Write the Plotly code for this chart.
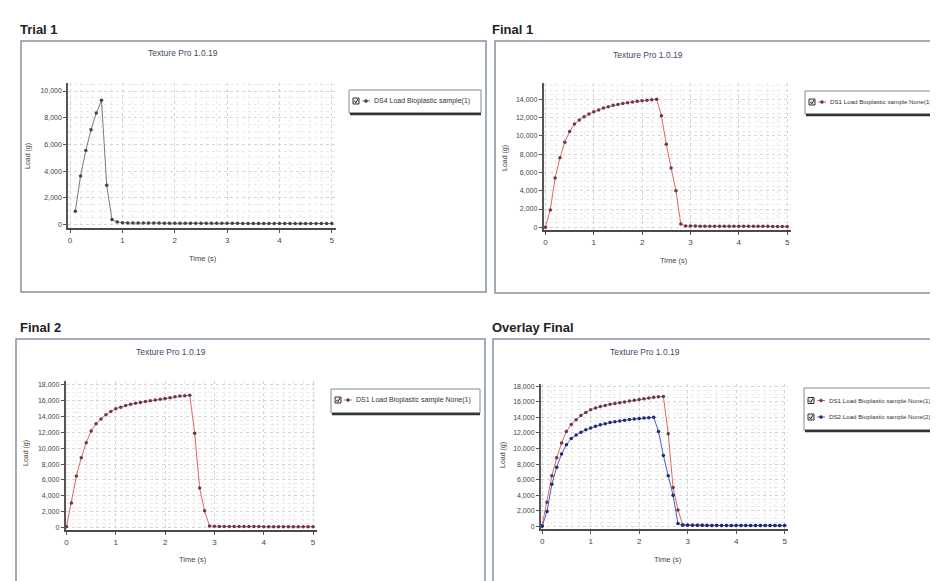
import plotly.graph_objects as go

W, H = 938, 581

# ---------------- data ----------------
time_trial = [0.1, 0.2, 0.3, 0.4, 0.5, 0.6, 0.7, 0.8, 0.9, 1.0,
              1.1, 1.2, 1.3, 1.4, 1.5, 1.6, 1.7, 1.8, 1.9, 2.0,
              2.1, 2.2, 2.3, 2.4, 2.5, 2.6, 2.7, 2.8, 2.9, 3.0,
              3.1, 3.2, 3.3, 3.4, 3.5, 3.6, 3.7, 3.8, 3.9, 4.0,
              4.1, 4.2, 4.3, 4.4, 4.5, 4.6, 4.7, 4.8, 4.9, 5.0]
load_trial1 = [1000, 3650, 5550, 7100, 8350, 9300, 2950, 380, 190, 140,
               130, 125, 120, 120, 115, 115, 115, 110, 110, 110,
               110, 105, 105, 105, 105, 100, 100, 100, 100, 100,
               100, 100, 95, 95, 95, 95, 95, 95, 90, 90,
               90, 90, 90, 90, 90, 90, 85, 85, 85, 85]

time_final = [0.0, 0.1, 0.2, 0.3, 0.4, 0.5, 0.6, 0.7, 0.8, 0.9, 1.0,
              1.1, 1.2, 1.3, 1.4, 1.5, 1.6, 1.7, 1.8, 1.9, 2.0,
              2.1, 2.2, 2.3, 2.4, 2.5, 2.6, 2.7, 2.8, 2.9, 3.0,
              3.1, 3.2, 3.3, 3.4, 3.5, 3.6, 3.7, 3.8, 3.9, 4.0,
              4.1, 4.2, 4.3, 4.4, 4.5, 4.6, 4.7, 4.8, 4.9, 5.0]
load_final1 = [0, 1900, 5400, 7600, 9300, 10500, 11300, 11750, 12100, 12400, 12650,
               12850, 13050, 13200, 13350, 13450, 13550, 13650, 13720, 13800, 13850,
               13920, 13970, 14020, 12200, 9100, 6500, 4000, 350, 140, 130,
               125, 120, 120, 115, 115, 110, 110, 110, 105, 105,
               105, 100, 100, 100, 100, 100, 95, 95, 95, 95]
load_final2 = [100, 3100, 6500, 8800, 10700, 12200, 13100, 13700, 14250, 14650, 15000,
               15200, 15400, 15550, 15700, 15800, 15900, 16000, 16100, 16200, 16300,
               16400, 16500, 16600, 16650, 16700, 11900, 5000, 2100, 200, 150,
               135, 125, 120, 120, 115, 115, 110, 110, 110, 105,
               105, 105, 100, 100, 100, 100, 95, 95, 95, 95]

x_tick_vals = [0, 1, 2, 3, 4, 5]
chart_title = "Texture Pro 1.0.19"
panel_labels = ["Trial 1", "Final 1", "Final 2", "Overlay Final"]
name_trial = "DS4 Load Bioplastic sample(1)"
name_final1 = "DS1 Load Bioplastic sample None(1)"
name_final2 = "DS1 Load Bioplastic sample None(1)"
name_ov1 = "DS1 Load Bioplastic sample None(1)"
name_ov2 = "DS2 Load Bioplastic sample None(2)"

# ---------------- styles ----------------
GRAY_LINE, GRAY_MK = "#7a7a7a", "#444444"
RED_LINE, RED_MK = "#e06666", "#6a3a44"
BLUE_LINE, BLUE_MK = "#4a5fc0", "#1f2a78"
FONT = "Liberation Sans"


def px(x):
    return x / W


def py(y):
    return 1 - y / H


panels = [
    dict(ax="", xdom=(60, 328), ydom=(75, 220), xr=[-0.04, 5.08], yr=[-250, 10600],
         title=(175, 45), ylab=(20, 148), xlab=(195, 250), lab=(10, 21)),
    dict(ax="2", xdom=(535.5, 783), ydom=(75, 222), xr=[-0.04, 5.08], yr=[-300, 15800],
         title=(640, 47), ylab=(497, 150), xlab=(666, 252), lab=(482, 21)),
    dict(ax="3", xdom=(57.5, 309), ydom=(373, 522), xr=[-0.02, 5.08], yr=[-320, 18500],
         title=(163, 344), ylab=(18, 445), xlab=(185, 551), lab=(10, 319)),
    dict(ax="4", xdom=(532.7, 780), ydom=(376, 521), xr=[-0.03, 5.07], yr=[-350, 18300],
         title=(637, 344), ylab=(495, 447), xlab=(660, 551), lab=(482, 319)),
]

fig = go.Figure()


def add_series(ax, x, y, name, lc, mc):
    fig.add_trace(go.Scatter(
        x=x, y=y, name=name, mode="lines+markers",
        line=dict(color=lc, width=1),
        marker=dict(color=mc, size=3.5),
        xaxis="x" + ax, yaxis="y" + ax, showlegend=False))


add_series("", time_trial, load_trial1, name_trial, GRAY_LINE, GRAY_MK)
add_series("2", time_final, load_final1, name_final1, RED_LINE, RED_MK)
add_series("3", time_final, load_final2, name_final2, RED_LINE, RED_MK)
add_series("4", time_final, load_final2, name_ov1, RED_LINE, RED_MK)
add_series("4", time_final, load_final1, name_ov2, BLUE_LINE, BLUE_MK)

layout = dict(
    width=W, height=H,
    margin=dict(l=0, r=0, t=0, b=0, autoexpand=False),
    paper_bgcolor="white", plot_bgcolor="white",
    font=dict(family=FONT, color="#333"),
)

annotations = []
shapes = []

for p in panels:
    a = p["ax"]
    xa = dict(
        domain=[px(p["xdom"][0]), px(p["xdom"][1])], range=p["xr"],
        anchor="y" + a, showline=True, linecolor="#4a4a4a", linewidth=2,
        ticks="outside", ticklen=3, tickcolor="#555", tickvals=x_tick_vals,
        tickfont=dict(size=8, color="#444", family=FONT),
        showgrid=True, gridcolor="#d4d4d4", griddash="dot", gridwidth=1,
        minor=dict(dtick=0.2, showgrid=True, gridcolor="#ebebeb", griddash="dot"),
        zeroline=False, fixedrange=True,
    )
    ya = dict(
        domain=[py(p["ydom"][1]), py(p["ydom"][0])], range=p["yr"],
        anchor="x" + a, showline=True, linecolor="#555", linewidth=1.5,
        ticks="outside", ticklen=3, tickcolor="#555", dtick=2000, tick0=0,
        tickformat=",d", tickfont=dict(size=7, color="#444", family=FONT),
        showgrid=True, gridcolor="#d4d4d4", griddash="dot", gridwidth=1,
        minor=dict(dtick=500, showgrid=True, gridcolor="#ebebeb", griddash="dot"),
        zeroline=False, fixedrange=True,
    )
    layout["xaxis" + a] = xa
    layout["yaxis" + a] = ya

    tx, ty = p["title"]
    annotations.append(dict(text=chart_title, x=px(tx), y=py(ty), xref="paper", yref="paper",
                            showarrow=False, xanchor="center", yanchor="middle",
                            font=dict(size=8.5, color="#3d4a66", family=FONT)))
    lx, ly = p["ylab"]
    annotations.append(dict(text="Load (g)", x=px(lx), y=py(ly), xref="paper", yref="paper",
                            showarrow=False, textangle=-90, xanchor="center", yanchor="middle",
                            font=dict(size=7, color="#444", family=FONT)))
    xx, xy = p["xlab"]
    annotations.append(dict(text="Time (s)", x=px(xx), y=py(xy), xref="paper", yref="paper",
                            showarrow=False, xanchor="center", yanchor="middle",
                            font=dict(size=7.5, color="#444", family=FONT)))

for lab, p in zip(panel_labels, panels):
    lx, ly = p["lab"]
    annotations.append(dict(text="<b>" + lab + "</b>", x=px(lx), y=py(ly), xref="paper", yref="paper",
                            showarrow=False, xanchor="left", yanchor="middle",
                            font=dict(size=13, color="#222", family=FONT)))

# panel frames
frames = [(13, 33, 478, 284), (487, 33, 950, 285), (8, 331, 477, 600), (485, 331, 950, 600)]
for (x0, y0, x1, y1) in frames:
    shapes.append(dict(type="rect", xref="paper", yref="paper",
                       x0=px(x0), x1=px(x1), y0=py(y1), y1=py(y0),
                       line=dict(color="#8691a3", width=1.5)))

# legend boxes: (box), rows, font size
legends = [
    ((341, 82, 473, 105), [(93, name_trial, GRAY_LINE, GRAY_MK)], 7),
    ((797, 83, 950, 106), [(94, name_final1, RED_LINE, RED_MK)], 6.2),
    ((323, 381, 472, 405), [(392, name_final2, RED_LINE, RED_MK)], 7),
    ((796, 380, 950, 422), [(392.5, name_ov1, RED_LINE, RED_MK), (409, name_ov2, BLUE_LINE, BLUE_MK)], 6.2),
]
for (x0, y0, x1, y1), rows, fs in legends:
    shapes.append(dict(type="rect", xref="paper", yref="paper",
                       x0=px(x0), x1=px(x1), y0=py(y1), y1=py(y0),
                       line=dict(color="#8a8a8a", width=1), fillcolor="white"))
    shapes.append(dict(type="line", xref="paper", yref="paper",
                       x0=px(x0 + 1), x1=px(x1), y0=py(y1 + 1), y1=py(y1 + 1),
                       line=dict(color="#333", width=2.5)))
    for ry, name, lc, mc in rows:
        # checkbox
        shapes.append(dict(type="rect", xref="paper", yref="paper",
                           x0=px(x0 + 4), x1=px(x0 + 10), y0=py(ry + 3), y1=py(ry - 3),
                           line=dict(color="#333", width=1), fillcolor="#e8e8e8"))
        shapes.append(dict(type="path", xref="paper", yref="paper",
                           path="M {} {} L {} {} L {} {}".format(
                               px(x0 + 5.3), py(ry), px(x0 + 6.8), py(ry + 1.8),
                               px(x0 + 9), py(ry - 2)),
                           line=dict(color="#222", width=1)))
        # line + marker glyph
        shapes.append(dict(type="line", xref="paper", yref="paper",
                           x0=px(x0 + 13), x1=px(x0 + 21), y0=py(ry), y1=py(ry),
                           line=dict(color=lc, width=1)))
        shapes.append(dict(type="circle", xref="paper", yref="paper",
                           x0=px(x0 + 15.5), x1=px(x0 + 18.5), y0=py(ry + 1.5), y1=py(ry - 1.5),
                           line=dict(color=mc, width=0.5), fillcolor=mc))
        annotations.append(dict(text=name, x=px(x0 + 23), y=py(ry), xref="paper", yref="paper",
                                showarrow=False, xanchor="left", yanchor="middle",
                                font=dict(size=fs, color="#333", family=FONT)))

layout["annotations"] = annotations
layout["shapes"] = shapes
fig.update_layout(**layout)

fig.write_html("out.html", config=dict(displayModeBar=False))
